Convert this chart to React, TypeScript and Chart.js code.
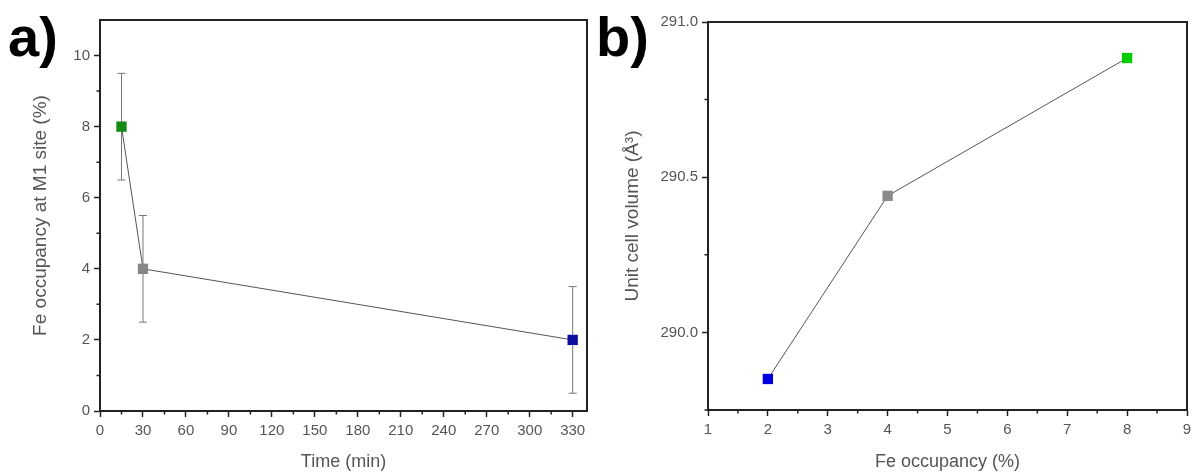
import React, { useEffect, useRef } from 'react';
import { Chart, registerables } from 'chart.js';

Chart.register(...registerables);

// ---- Panel a) data ----
const timeMin = [15, 30, 330];
const feOccupancyA = [8, 4, 2];
const feOccupancyErr = [1.5, 1.5, 1.5];
const pointColorsA = ['#148a14', '#858585', '#0d0d9e'];
const timeTicks = [0, 30, 60, 90, 120, 150, 180, 210, 240, 270, 300, 330];
const timeMinorTicks = [15, 45, 75, 105, 135, 165, 195, 225, 255, 285, 315];
const occTicksA = [0, 2, 4, 6, 8, 10];
const occMinorTicksA = [1, 3, 5, 7, 9];

// ---- Panel b) data ----
const feOccupancyB = [2, 4, 8];
const cellVolume = [289.85, 290.44, 290.884];
const pointColorsB = ['#0000e0', '#8a8a8a', '#00cc00'];
const feTicks = [1, 2, 3, 4, 5, 6, 7, 8, 9];
const feMinorTicks = [1.5, 2.5, 3.5, 4.5, 5.5, 6.5, 7.5, 8.5];
const volTicks = [290.0, 290.5, 291.0];
const volMinorTicks = [289.75, 290.25, 290.75];

const FONT = "Arial, 'Liberation Sans', sans-serif";
const AXIS = '#222';
const TEXT = '#555';

const framePlugin = {
  id: 'frame',
  beforeDatasetsDraw(chart: any, _args: any, opts: any) {
    const { ctx, scales } = chart;
    const x = scales.x, y = scales.y;
    if (!opts.err) return;
    ctx.save();
    ctx.strokeStyle = '#777';
    ctx.lineWidth = 1;
    const ds = chart.data.datasets[0].data;
    ds.forEach((p: any, i: number) => {
      const e = opts.err[i];
      const px = x.getPixelForValue(p.x);
      const pTop = y.getPixelForValue(p.y + e);
      const pBot = y.getPixelForValue(p.y - e);
      ctx.beginPath();
      ctx.moveTo(px, pTop); ctx.lineTo(px, pBot);
      ctx.moveTo(px - 4, pTop); ctx.lineTo(px + 4, pTop);
      ctx.moveTo(px - 4, pBot); ctx.lineTo(px + 4, pBot);
      ctx.stroke();
    });
    ctx.restore();
  },
  afterDraw(chart: any, _args: any, opts: any) {
    const { ctx, chartArea, scales } = chart;
    const { left, right, top, bottom } = chartArea;
    const x = scales.x, y = scales.y;
    ctx.save();
    ctx.strokeStyle = AXIS;
    ctx.lineWidth = 2;
    ctx.beginPath();
    ctx.moveTo(left - 1, top);
    ctx.lineTo(right, top);
    ctx.lineTo(right, bottom + 1);
    ctx.stroke();
    ctx.lineWidth = 1.5;
    ctx.beginPath();
    (opts.xMinor || []).forEach((v: number) => {
      const px = x.getPixelForValue(v);
      ctx.moveTo(px, bottom); ctx.lineTo(px, bottom + 3.5);
    });
    (opts.yMinor || []).forEach((v: number) => {
      const py = y.getPixelForValue(v);
      ctx.moveTo(left, py); ctx.lineTo(left - 3.5, py);
    });
    ctx.stroke();
    ctx.restore();
  },
};

function axisCommon() {
  return {
    grid: {
      display: true,
      drawOnChartArea: false,
      drawTicks: true,
      tickLength: 6,
      tickWidth: 1.5,
      tickColor: AXIS,
    },
    border: { display: true, color: AXIS, width: 2 },
  };
}

function makeConfig(p: {
  xs: number[]; ys: number[]; colors: string[]; err?: number[];
  xMin: number; xMax: number; yMin: number; yMax: number;
  xTicks: number[]; yTicks: number[]; xMinor: number[]; yMinor: number[];
  xTitle: string; yTitle: string; yFmt: (v: number) => string;
  yWidth: number; xHeight: number; padTop: number; padRight: number; yTitlePad: number;
}) {
  return {
    type: 'scatter' as const,
    data: {
      datasets: [{
        data: p.xs.map((xv, i) => ({ x: xv, y: p.ys[i] })),
        showLine: true,
        borderColor: '#555',
        borderWidth: 1,
        pointStyle: 'rect',
        pointRadius: 7.3,
        pointHoverRadius: 7.3,
        pointBorderWidth: 0,
        pointBackgroundColor: p.colors,
        pointBorderColor: p.colors,
      }],
    },
    options: {
      animation: false,
      responsive: false,
      events: [],
      layout: { padding: { top: p.padTop, right: p.padRight, left: 0, bottom: 0 } },
      plugins: {
        legend: { display: false },
        tooltip: { enabled: false },
        frame: { err: p.err, xMinor: p.xMinor, yMinor: p.yMinor },
      },
      scales: {
        x: {
          type: 'linear',
          min: p.xMin,
          max: p.xMax,
          ...axisCommon(),
          afterBuildTicks: (s: any) => { s.ticks = p.xTicks.map((v) => ({ value: v })); },
          afterFit: (s: any) => { s.height = p.xHeight; },
          ticks: {
            color: TEXT,
            font: { family: FONT, size: 15 },
            padding: 5,
            maxRotation: 0,
            autoSkip: false,
            callback: (v: any) => String(v),
          },
          title: {
            display: true,
            text: p.xTitle,
            color: TEXT,
            font: { family: FONT, size: 18 },
            padding: { top: 0, bottom: 2 },
          },
        },
        y: {
          type: 'linear',
          min: p.yMin,
          max: p.yMax,
          ...axisCommon(),
          afterBuildTicks: (s: any) => { s.ticks = p.yTicks.map((v) => ({ value: v })); },
          afterFit: (s: any) => { s.width = p.yWidth; },
          ticks: {
            color: TEXT,
            font: { family: FONT, size: 15 },
            padding: 4,
            autoSkip: false,
            callback: (v: any) => p.yFmt(Number(v)),
          },
          title: {
            display: true,
            text: p.yTitle,
            color: TEXT,
            font: { family: FONT, size: 19 },
            padding: { top: p.yTitlePad, bottom: 0 },
          },
        },
      },
    },
    plugins: [framePlugin],
  };
}

function Panel(props: { cfg: any; left: number; width: number; label: string; labelLeft: number }) {
  const ref = useRef<HTMLCanvasElement>(null);
  useEffect(() => {
    if (!ref.current) return;
    const chart = new Chart(ref.current, props.cfg);
    return () => chart.destroy();
  }, []);
  return (
    <>
      <canvas
        ref={ref}
        width={props.width}
        height={475}
        style={{ position: 'absolute', left: props.left, top: 0, width: props.width, height: 475 }}
      />
      <div
        style={{
          position: 'absolute',
          left: props.labelLeft,
          top: 6,
          fontFamily: FONT,
          fontWeight: 'bold',
          fontSize: 56,
          lineHeight: '62px',
          color: '#000',
        }}
      >
        {props.label}
      </div>
    </>
  );
}

export default function App() {
  const cfgA = makeConfig({
    xs: timeMin, ys: feOccupancyA, colors: pointColorsA, err: feOccupancyErr,
    xMin: 0, xMax: 340, yMin: 0, yMax: 11,
    xTicks: timeTicks, yTicks: occTicksA, xMinor: timeMinorTicks, yMinor: occMinorTicksA,
    xTitle: 'Time (min)', yTitle: 'Fe occupancy at M1 site (%)',
    yFmt: (v) => String(v),
    yWidth: 100, xHeight: 64, padTop: 20, padRight: 13, yTitlePad: 29,
  });
  const cfgB = makeConfig({
    xs: feOccupancyB, ys: cellVolume, colors: pointColorsB,
    xMin: 1, xMax: 9, yMin: 289.75, yMax: 291.0,
    xTicks: feTicks, yTicks: volTicks, xMinor: feMinorTicks, yMinor: volMinorTicks,
    xTitle: 'Fe occupancy (%)', yTitle: 'Unit cell volume (Å³)',
    yFmt: (v) => v.toFixed(1),
    yWidth: 108, xHeight: 65, padTop: 22, padRight: 11, yTitlePad: 21,
  });
  return (
    <div style={{ position: 'fixed', left: 0, top: 0, width: 1198, height: 475, background: '#fff', overflow: 'hidden' }}>
      <Panel cfg={cfgA} left={0} width={600} label="a)" labelLeft={8} />
      <Panel cfg={cfgB} left={600} width={598} label="b)" labelLeft={596} />
    </div>
  );
}
